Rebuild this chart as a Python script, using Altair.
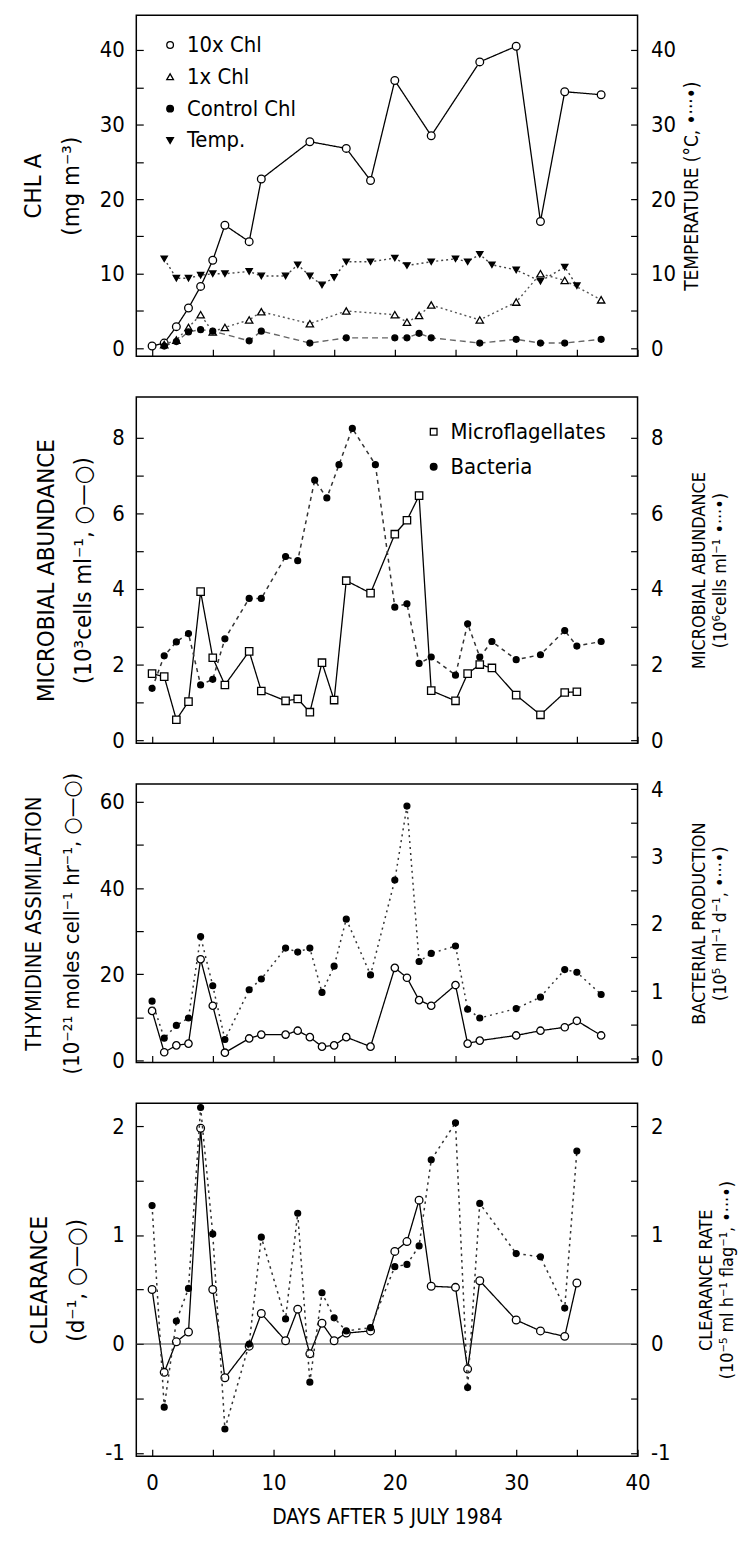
import altair as alt
import pandas as pd

FONT = "Liberation Sans Narrow, DejaVu Sans Condensed, DejaVu Sans"

# ---------------- x axis ----------------
X_DOMAIN = [-1.3, 40.0]
X_TICKS = [0, 5, 10, 15, 20, 25, 30, 35, 40]
X_LABELS = [0, 10, 20, 30, 40]

# ---------------- panel 1: chlorophyll & temperature ----------------
chl10_day = [0, 1, 2, 3, 4, 5, 6, 8, 9, 13, 16, 18, 20, 23, 27, 30, 32, 34, 37]
chl10_val = [0.3, 0.7, 2.9, 5.4, 8.3, 11.8, 16.5, 14.3, 22.7, 27.7, 26.8, 22.5, 35.9, 28.5, 38.4, 40.5, 17.0, 34.4, 34.0]
chl1_day = [1, 2, 3, 4, 5, 6, 8, 9, 13, 16, 20, 21, 22, 23, 27, 30, 32, 34, 37]
chl1_val = [0.5, 1.1, 2.8, 4.5, 2.2, 2.8, 3.8, 4.9, 3.3, 5.0, 4.5, 3.5, 4.4, 5.8, 3.8, 6.2, 10.0, 9.1, 6.5]
ctrl_day = [1, 2, 3, 4, 5, 8, 9, 13, 16, 20, 21, 22, 23, 27, 30, 32, 34, 37]
ctrl_val = [0.3, 0.9, 2.2, 2.5, 2.3, 1.0, 2.3, 0.7, 1.4, 1.4, 1.4, 2.0, 1.4, 0.7, 1.2, 0.7, 0.7, 1.2]
temp_day = [1, 2, 3, 4, 5, 6, 8, 9, 11, 12, 13, 14, 15, 16, 18, 20, 21, 23, 25, 26, 27, 28, 30, 32, 34, 35]
temp_val = [12.0, 9.4, 9.4, 9.8, 10.0, 10.0, 10.3, 9.7, 9.7, 11.2, 9.7, 8.5, 9.5, 11.6, 11.6, 12.1, 11.1, 11.6,
            12.0, 11.6, 12.6, 11.2, 10.5, 9.0, 10.9, 8.4]
p1_series = ["10x Chl", "1x Chl", "Control Chl", "Temp."]
p1_ticks = [0, 5, 10, 15, 20, 25, 30, 35, 40]
p1_labels = [0, 10, 20, 30, 40]

# ---------------- panel 2: microbial abundance ----------------
mf_day = [0, 1, 2, 3, 4, 5, 6, 8, 9, 11, 12, 13, 14, 15, 16, 18, 20, 21, 22, 23, 25, 26, 27, 28, 30, 32, 34, 35]
mf_val = [1.76, 1.68, 0.54, 1.02, 3.93, 2.18, 1.46, 2.35, 1.30, 1.04, 1.09, 0.74, 2.05, 1.06, 4.22, 3.89,
          5.45, 5.82, 6.47, 1.31, 1.04, 1.76, 2.0, 1.91, 1.19, 0.67, 1.26, 1.28]
bac_day = [0, 1, 2, 3, 4, 5, 6, 8, 9, 11, 12, 13.4, 14.4, 15.4, 16.5, 18.4, 20, 21, 22, 23, 25, 26, 27, 28,
           30, 32, 34, 35, 37]
bac_val = [1.37, 2.23, 2.60, 2.82, 1.46, 1.61, 2.68, 3.75, 3.75, 4.86, 4.75, 6.88, 6.41, 7.29, 8.25, 7.29,
           3.52, 3.61, 2.03, 2.20, 1.72, 3.08, 2.20, 2.61, 2.13, 2.26, 2.90, 2.49, 2.61]
p2_series = ["Microflagellates", "Bacteria"]
p2_ticks = [0, 1, 2, 3, 4, 5, 6, 7, 8]
p2_labels = [0, 2, 4, 6, 8]

# ---------------- panel 3: thymidine / bacterial production ----------------
thy_day = [0, 1, 2, 3, 4, 5, 6, 8, 9, 11, 12, 13, 14, 15, 16, 18, 20, 21, 22, 23, 25, 26, 27, 30, 32, 34, 35, 37]
thy_val = [11.5, 1.9, 3.5, 3.9, 23.5, 12.7, 1.8, 5.1, 6.0, 6.0, 6.9, 5.4, 3.2, 3.5, 5.4, 3.2, 21.5, 19.2,
           14.0, 12.7, 17.5, 3.9, 4.6, 5.8, 6.9, 7.7, 9.2, 5.8]
bp_day = [0, 1, 2, 3, 4, 5, 6, 8, 9, 11, 12, 13, 14, 15, 16, 18, 20, 21, 22, 23, 25, 26, 27, 30, 32, 34, 35, 37]
bp_val = [0.85, 0.30, 0.49, 0.60, 1.81, 1.08, 0.28, 1.02, 1.18, 1.64, 1.58, 1.64, 0.98, 1.37, 2.07, 1.24,
          2.65, 3.75, 1.44, 1.56, 1.67, 0.73, 0.60, 0.74, 0.91, 1.32, 1.28, 0.95]
p3_left_ticks = [0, 10, 20, 30, 40, 50, 60]
p3_left_labels = [0, 20, 40, 60]
p3_right_ticks = [0, 0.5, 1, 1.5, 2, 2.5, 3, 3.5, 4]
p3_right_labels = [0, 1, 2, 3, 4]

# ---------------- panel 4: clearance ----------------
cl_day = [0, 1, 2, 3, 4, 5, 6, 8, 9, 11, 12, 13, 14, 15, 16, 18, 20, 21, 22, 23, 25, 26, 27, 30, 32, 34, 35]
cl_val = [0.50, -0.26, 0.02, 0.11, 1.98, 0.50, -0.31, -0.02, 0.28, 0.03, 0.32, -0.09, 0.19, 0.03, 0.10, 0.12,
          0.85, 0.94, 1.32, 0.53, 0.52, -0.23, 0.58, 0.22, 0.12, 0.07, 0.56]
cr_day = [0, 1, 2, 3, 4, 5, 6, 8, 9, 11, 12, 13, 14, 15, 16, 18, 20, 21, 22, 23, 25, 26, 27, 30, 32, 34, 35]
cr_val = [1.27, -0.58, 0.21, 0.51, 2.17, 1.01, -0.78, 0.0, 0.98, 0.23, 1.20, -0.35, 0.47, 0.24, 0.12, 0.15,
          0.71, 0.73, 0.90, 1.69, 2.03, -0.40, 1.29, 0.83, 0.80, 0.33, 1.77]
p4_ticks = [-1, -0.5, 0, 0.5, 1, 1.5, 2]
p4_labels = [-1, 0, 1, 2]
zero_line = [0]

# ---------------- layout ----------------
W = 504
H1, H2, H3, H4 = 343, 348, 280, 355
TICK = 7


def lab_expr(labels):
    arr = "[" + ",".join(str(v) for v in labels) + "]"
    return ("indexof(" + arr + ", datum.value) >= 0 ? (datum.value < 0 ? '-' + toString(-datum.value) "
            ": toString(datum.value)) : ''")


def xscale():
    return alt.Scale(domain=X_DOMAIN, nice=False, zero=False)


def yscale(dom):
    return alt.Scale(domain=dom, nice=False, zero=False)


COMMON = dict(ticks=True, tickSize=TICK, offset=-TICK, tickColor="black", tickWidth=1.2, domain=False,
              grid=False, labelFont=FONT, labelFontSize=22, labelFlush=False, labelOverlap=False,
              labelColor="black", titleFont=FONT, titleFontWeight="normal", titleColor="black")


def left_axis(ticks, labels, title, size=24):
    return alt.Axis(values=ticks, labelExpr=lab_expr(labels), title=title, orient="left",
                    labelPadding=12, titleFontSize=size, titlePadding=16, titleLineHeight=38, **COMMON)


def right_axis(ticks, labels, title, size=18):
    return alt.Axis(values=ticks, labelExpr=lab_expr(labels), title=title, orient="right",
                    labelPadding=13, titleFontSize=size, titlePadding=7, titleAngle=270,
                    titleBaseline="top", titleLineHeight=21, **COMMON)


X_AXIS_TOP = alt.Axis(values=X_TICKS, labels=False, title=None, orient="bottom", **COMMON)
X_AXIS_BOTTOM = alt.Axis(values=X_TICKS, labelExpr=lab_expr(X_LABELS), orient="bottom", labelPadding=16,
                         title="DAYS AFTER 5 JULY 1984", titleFontSize=21, titlePadding=14, **COMMON)


def legend_obj(x, y, row_pad):
    return alt.Legend(title=None, orient="none", legendX=x, legendY=y, labelFont=FONT, labelFontSize=22,
                      labelColor="black", symbolStrokeWidth=1.3, symbolSize=45,
                      rowPadding=row_pad, labelOffset=6, padding=0)


def series(day, val, name, ysc, yax, xax, dash, lcolor, lwidth, shape, fill, size,
           dom=None, shapes=None, fills=None, legend=None):
    df = pd.DataFrame({"day": day, "v": val, "series": name})
    x = alt.X("day:Q", scale=xscale(), axis=xax)
    y = alt.Y("v:Q", scale=ysc, axis=yax)
    line = alt.Chart(df).mark_line(color=lcolor, strokeWidth=lwidth, strokeDash=dash).encode(x=x, y=y)
    if legend is not None:
        pts = alt.Chart(df).mark_point(filled=True, strokeWidth=1.3, size=size, opacity=1).encode(
            x=x, y=y,
            shape=alt.Shape("series:N", scale=alt.Scale(domain=dom, range=shapes), legend=legend),
            fill=alt.Fill("series:N", scale=alt.Scale(domain=dom, range=fills), legend=legend),
            stroke=alt.Stroke("series:N", scale=alt.Scale(domain=dom, range=["black"] * len(dom)),
                              legend=legend))
    else:
        pts = alt.Chart(df).mark_point(shape=shape, filled=True, fill=fill, stroke="black", strokeWidth=1.3,
                                       size=size, opacity=1).encode(x=x, y=y)
    return line, pts


# ---------------- panel 1 ----------------
p1_dom = [-1.07, 44.67]
s1L, s1R = yscale(p1_dom), yscale(p1_dom)
a1L = left_axis(p1_ticks, p1_labels, ["CHL A", "(mg m\u207b\u00b3)"], size=24)
a1R = right_axis(p1_ticks, p1_labels, "TEMPERATURE (\u00b0C, \u2022\u00b7\u00b7\u00b7\u2022)", size=19)
leg1 = legend_obj(23, 19, 10)
sh1 = ["circle", "triangle-up", "circle", "triangle-down"]
fi1 = ["white", "white", "black", "black"]
kw1 = dict(dom=p1_series, shapes=sh1, fills=fi1, legend=leg1)
c10 = series(chl10_day, chl10_val, "10x Chl", s1L, a1L, X_AXIS_TOP, [1, 0], "black", 1.3, None, None, 60, **kw1)
c1 = series(chl1_day, chl1_val, "1x Chl", s1L, a1L, X_AXIS_TOP, [2, 3], "#555555", 1.4, None, None, 55, **kw1)
cc = series(ctrl_day, ctrl_val, "Control Chl", s1L, a1L, X_AXIS_TOP, [6, 4], "#666666", 1.4, None, None, 35, **kw1)
tt = series(temp_day, temp_val, "Temp.", s1R, a1R, X_AXIS_TOP, [2, 3], "#444444", 1.4, None, None, 40, **kw1)
panel1 = alt.layer(
    alt.layer(c10[0], c1[0], cc[0], c10[1], c1[1], cc[1]),
    alt.layer(tt[0], tt[1]),
).resolve_scale(y="independent").properties(width=W, height=H1)

# ---------------- panel 2 ----------------
p2_dom = [-0.08, 9.08]
s2L, s2R = yscale(p2_dom), yscale(p2_dom)
a2L = left_axis(p2_ticks, p2_labels, ["MICROBIAL ABUNDANCE", "(10\u00b3cells ml\u207b\u00b9, \u25cb\u2014\u25cb)"],
                size=24)
a2R = right_axis(p2_ticks, p2_labels, ["MICROBIAL ABUNDANCE", "(10\u2076cells ml\u207b\u00b9 \u2022\u00b7\u00b7\u00b7\u2022)"])
leg2 = legend_obj(288, 24, 13)
kw2 = dict(dom=p2_series, shapes=["square", "circle"], fills=["white", "black"], legend=leg2)
mf = series(mf_day, mf_val, "Microflagellates", s2L, a2L, X_AXIS_TOP, [1, 0], "black", 1.3, None, None, 55, **kw2)
bc = series(bac_day, bac_val, "Bacteria", s2R, a2R, X_AXIS_TOP, [4, 4], "#333333", 1.5, None, None, 35, **kw2)
panel2 = alt.layer(
    alt.layer(mf[0], mf[1]),
    alt.layer(bc[0], bc[1]),
).resolve_scale(y="independent").properties(width=W, height=H2)

# ---------------- panel 3 ----------------
s3L, s3R = yscale([-0.46, 64.2]), yscale([-0.06, 4.08])
a3L = left_axis(p3_left_ticks, p3_left_labels,
                ["THYMIDINE ASSIMILATION",
                 "(10\u207b\u00b2\u00b9 moles cell\u207b\u00b9 hr\u207b\u00b9, \u25cb\u2014\u25cb)"], size=22)
a3R = right_axis(p3_right_ticks, p3_right_labels,
                 ["BACTERIAL PRODUCTION", "(10\u2075 ml\u207b\u00b9 d\u207b\u00b9, \u2022\u00b7\u00b7\u00b7\u2022)"])
th = series(thy_day, thy_val, "thy", s3L, a3L, X_AXIS_TOP, [1, 0], "black", 1.3, "circle", "white", 55)
bp = series(bp_day, bp_val, "bp", s3R, a3R, X_AXIS_TOP, [2, 4], "#333333", 1.5, "circle", "black", 35)
panel3 = alt.layer(
    alt.layer(th[0], th[1]),
    alt.layer(bp[0], bp[1]),
).resolve_scale(y="independent").properties(width=W, height=H3)

# ---------------- panel 4 ----------------
p4_dom = [-1.03, 2.21]
s4L, s4R = yscale(p4_dom), yscale(p4_dom)
a4L = left_axis(p4_ticks, p4_labels, ["CLEARANCE", "(d\u207b\u00b9, \u25cb\u2014\u25cb)"], size=24)
a4R = right_axis(p4_ticks, p4_labels,
                 ["CLEARANCE RATE", "(10\u207b\u2075 ml h\u207b\u00b9 flag\u207b\u00b9, \u2022\u00b7\u00b7\u00b7\u2022)"])
zero = alt.Chart(pd.DataFrame({"v": zero_line})).mark_rule(color="#444444", strokeWidth=1.2).encode(
    y=alt.Y("v:Q", scale=s4L, axis=a4L))
cl = series(cl_day, cl_val, "cl", s4L, a4L, X_AXIS_BOTTOM, [1, 0], "black", 1.3, "circle", "white", 60)
cr = series(cr_day, cr_val, "cr", s4R, a4R, X_AXIS_BOTTOM, [2.5, 4], "#333333", 1.5, "circle", "black", 35)
panel4 = alt.layer(
    alt.layer(zero, cl[0], cl[1]),
    alt.layer(cr[0], cr[1]),
).resolve_scale(y="independent").properties(width=W, height=H4)

chart = alt.vconcat(panel1, panel2, panel3, panel4, spacing=41, bounds="flush").resolve_scale(
    shape="independent", fill="independent", stroke="independent"
).properties(
    padding={"left": 13, "top": 2, "right": 0, "bottom": 0}
).configure(background="white").configure_view(stroke="black", strokeWidth=1.5)

chart.save("out.html", embed_options={"renderer": "svg", "actions": False})
